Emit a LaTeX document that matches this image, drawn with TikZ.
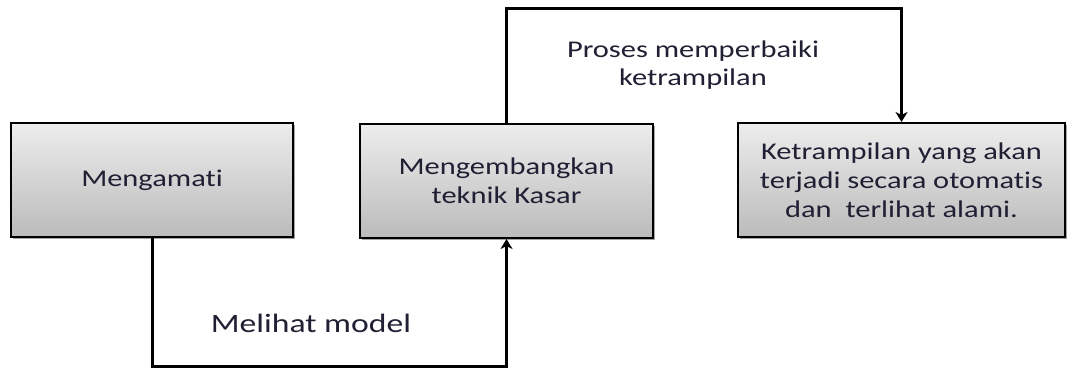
\documentclass[tikz,border=0pt]{standalone}
\usepackage{fontspec}
\setmainfont{Carlito}[FakeStretch=1.27, Ligatures={NoCommon}]
\usetikzlibrary{arrows.meta,shadows}
\definecolor{txt}{RGB}{32,32,52}
\definecolor{boxtop}{HTML}{EDEDED}
\definecolor{boxbot}{HTML}{BBBBBB}
\tikzset{
  stepbox/.style={draw=black, line width=2pt, top color=boxtop, bottom color=boxbot,
    minimum height=114pt, align=center, text=txt,
    font=\fontsize{24}{29}\selectfont, inner sep=0pt,
    drop shadow={shadow xshift=1.5pt, shadow yshift=-1.5pt, fill=black, opacity=0.35}},
  conn/.style={line width=3pt, line join=miter, black,
    -{Stealth[length=10pt,width=12pt,inset=3pt]}},
  lbl/.style={align=center, text=txt, font=\fontsize{24}{28}\selectfont, inner sep=0pt}
}
\begin{document}
\begin{tikzpicture}[x=1pt,y=-1pt]
\path[use as bounding box, fill=white] (0,0) rectangle (1067,370);
\node[stepbox, minimum width=282pt] (b1) at (152,180) {Mengamati};
\node[stepbox, minimum width=293pt] (b2) at (506.5,181) {Mengembangkan\\teknik Kasar};
\node[stepbox, minimum width=327pt] (b3) at (901.5,180) {Ketrampilan yang akan\\terjadi secara otomatis\\dan~ terlihat alami.};
\coordinate (top) at (700,8);
\coordinate (bot) at (330,366.5);
\draw[conn] (b2.north) |- (top) -| (b3.north);
\draw[conn] (b1.south) |- (bot) -| (b2.south);
\node[lbl] (l1) at (693,65) {Proses memperbaiki\\ketrampilan};
\node[lbl, font=\fontsize{26.5}{30}\selectfont] (l2) at (311,323) {Melihat model};
\end{tikzpicture}
\end{document}
